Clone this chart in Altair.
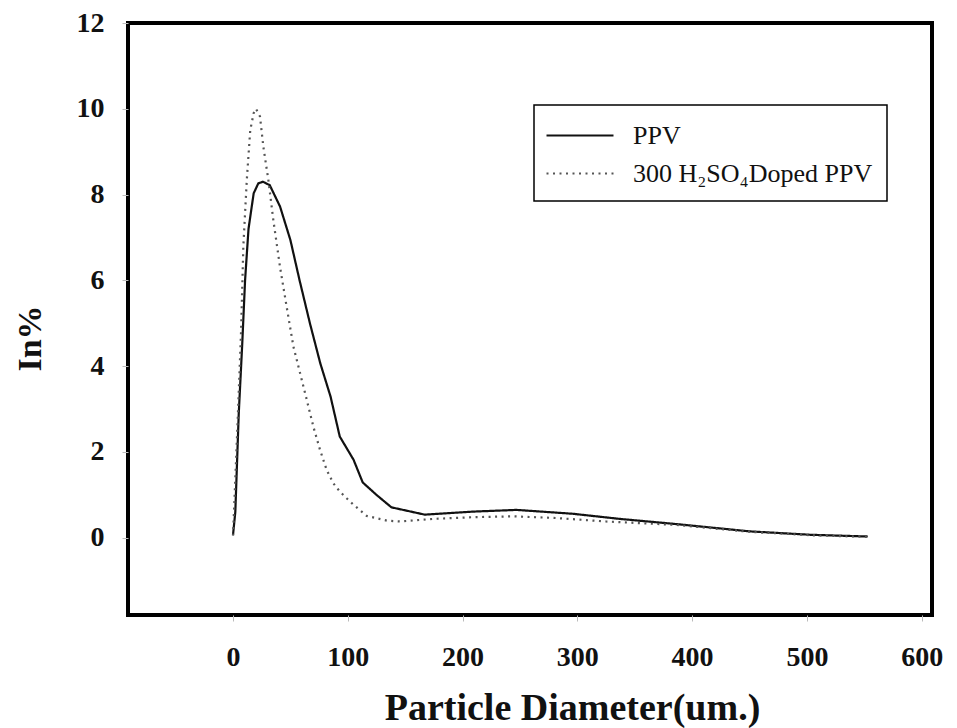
import altair as alt
import pandas as pd

# PPV (solid)
ppv_x = [0, 2, 5, 8, 10.5, 13.5, 18, 22, 26, 32, 41, 50, 58, 67, 76, 85, 93,
         105, 113, 125, 138, 167, 209, 247, 296, 337, 386, 450, 503, 553]
ppv_y = [0.07, 0.6, 2.9, 4.5, 6.0, 7.2, 8.03, 8.26, 8.30, 8.22, 7.72, 6.94, 6.0,
         5.0, 4.07, 3.29, 2.36, 1.82, 1.29, 1.0, 0.71, 0.54, 0.61, 0.65, 0.56,
         0.44, 0.32, 0.15, 0.07, 0.03]

# 300 H2SO4 doped PPV (dotted)
dop_x = [0, 4, 7, 9, 12, 15, 18, 20, 23.5, 26.4, 30.8, 35.1, 40.9, 46.7, 52.6,
         58.4, 64.2, 70, 75.8, 81.6, 87.4, 93, 99, 105, 116.5, 134, 145.5, 174.5,
         209, 244, 282, 325, 386, 450, 503, 553]
dop_y = [0.05, 2.7, 4.8, 6.8, 8.34, 9.5, 9.9, 10.0, 9.82, 9.12, 8.34, 7.41, 6.32,
         5.39, 4.46, 3.84, 3.22, 2.59, 2.05, 1.58, 1.27, 1.08, 0.92, 0.77, 0.51,
         0.40, 0.38, 0.44, 0.48, 0.50, 0.46, 0.38, 0.30, 0.14, 0.06, 0.02]

series_names = ["PPV", "300 H₂SO₄Doped PPV"]
x_ticks = [0, 100, 200, 300, 400, 500, 600]
y_ticks = [0, 2, 4, 6, 8, 10, 12]

df = pd.concat([
    pd.DataFrame({"x": ppv_x, "y": ppv_y, "series": series_names[0], "order": range(len(ppv_x))}),
    pd.DataFrame({"x": dop_x, "y": dop_y, "series": series_names[1], "order": range(len(dop_x))}),
])

legend = alt.Legend(
    title=None, orient="none", legendX=406, legendY=82,
    symbolType="M-2.233,0L2.233,0", symbolSize=900, symbolStrokeWidth=2,
    symbolOffset=15.5, labelOffset=36.5, rowPadding=8, padding=14,
    labelFont="Liberation Serif", labelFontSize=26, labelColor="#111",
    labelLimit=400, fillColor="white", strokeColor="black",
)

chart = alt.Chart(df).mark_line(strokeCap="butt").encode(
    x=alt.X("x:Q", scale=alt.Scale(domain=[-91.5, 609], nice=False, zero=False),
            axis=alt.Axis(values=x_ticks, title="Particle Diameter(um.)", domain=False,
                          grid=False, tickSize=6, tickColor="#bbb", labelPadding=22,
                          labelFont="Liberation Serif", labelFontWeight="bold",
                          labelFontSize=28, labelColor="#111",
                          titleFont="Liberation Serif", titleFontWeight="bold",
                          titleFontSize=38, titleColor="#111", titleX=444, titleY=104,
                          titleAlign="center", titleBaseline="alphabetic")),
    y=alt.Y("y:Q", scale=alt.Scale(domain=[-1.8, 12], nice=False, zero=False),
            axis=alt.Axis(values=y_ticks, title="In%", domain=False, grid=False,
                          tickSize=6, tickColor="#bbb", labelPadding=18,
                          labelFont="Liberation Serif", labelFontWeight="bold",
                          labelFontSize=28, labelColor="#111",
                          titleFont="Liberation Serif", titleFontWeight="bold",
                          titleFontSize=34, titleColor="#111", titleX=-98, titleY=315,
                          titleAlign="center", titleBaseline="middle")),
    color=alt.Color("series:N", scale=alt.Scale(domain=series_names, range=["#111111", "#555555"]),
                    legend=legend),
    strokeDash=alt.StrokeDash("series:N", scale=alt.Scale(domain=series_names, range=[[1, 0], [2, 4.5]]),
                              legend=legend),
    strokeWidth=alt.StrokeWidth("series:N", scale=alt.Scale(domain=series_names, range=[2.2, 2.2]),
                                legend=None),
    order="order:Q",
).properties(
    width=804, height=592,
    autosize=alt.AutoSizeParams(type="none"),
    padding={"left": 120, "top": 15, "right": 17, "bottom": 113},
).configure_view(stroke="black", strokeWidth=4).configure_legend(strokeWidth=1.5)

chart.save("out.html", embed_options={"renderer": "svg", "actions": False})
